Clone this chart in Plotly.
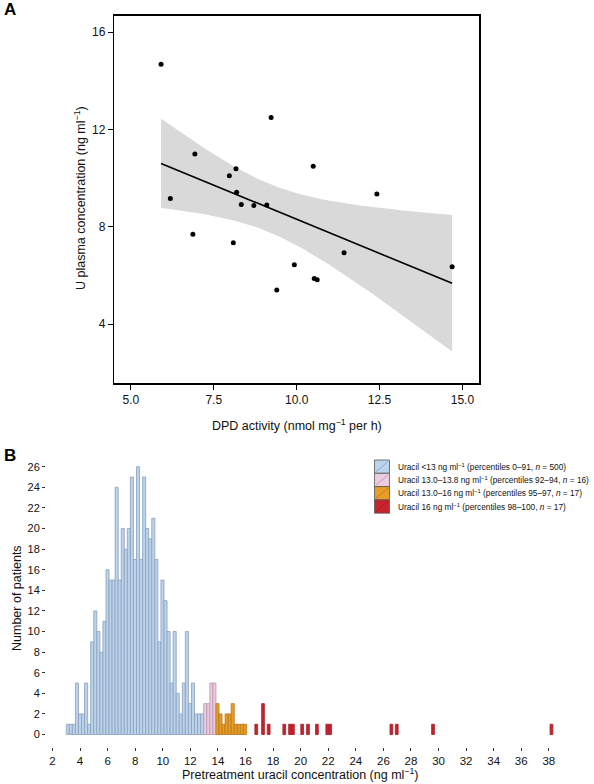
import numpy as np
import plotly.graph_objects as go

# ---------------- Panel A data ----------------
dpd_activity = [5.91, 9.23, 6.93, 8.17, 7.97, 10.50, 6.19, 8.19, 12.42, 8.33,
                8.71, 9.10, 6.87, 8.09, 11.43, 9.93, 10.53, 10.62, 9.40, 14.69]
u_plasma = [14.68, 12.49, 10.99, 10.39, 10.10, 10.49, 9.17, 9.42, 9.35, 8.92,
            8.88, 8.90, 7.70, 7.35, 6.93, 6.44, 5.88, 5.82, 5.40, 6.36]
t_crit = 2.101  # t(0.975, df=18)

# ---------------- Panel B data ----------------
hist_start = 3.0
hist_bin_width = 0.2215
blue_counts = [1, 1, 1, 5, 2, 2, 5, 1, 9, 12, 10, 8, 11, 16, 15, 15, 24, 15, 20, 18,
               20, 25, 17, 26, 17, 25, 20, 19, 21, 17, 9, 15, 13, 10, 5, 10, 4, 2, 5, 10,
               3, 5, 2, 2, 2]
pink_counts = [3, 3, 5, 5]
orange_counts = [3, 2, 1, 2, 2, 3, 1, 1, 1, 1]
red_values = [16.78, 17.27, 17.68, 18.81, 19.23, 19.44, 20.11, 20.53, 21.18,
              21.93, 22.14, 26.58, 26.97, 29.60, 38.19]
red_counts = [1, 3, 1, 1, 1, 1, 1, 1, 1, 1, 1, 1, 1, 1, 1]

legend_labels = [
    "Uracil &lt;13 ng ml<sup>−1</sup> (percentiles 0–91, <i>n</i> = 500)",
    "Uracil 13.0–13.8 ng ml<sup>−1</sup> (percentiles 92–94, <i>n</i> = 16)",
    "Uracil 13.0–16 ng ml<sup>−1</sup> (percentiles 95–97, <i>n</i> = 17)",
    "Uracil 16 ng ml<sup>−1</sup> (percentiles 98–100, <i>n</i> = 17)",
]

FONT = "Liberation Sans, Arial, Helvetica, sans-serif"
W, H = 594, 784

blue_fill, blue_line = "#bcd3ec", "#8a9fba"
pink_fill, pink_line = "#ecccdf", "#b994ad"
orange_fill, orange_line = "#e89d27", "#b8761a"
red_fill, red_line = "#c9232e", "#a81a24"

fig = go.Figure()

# ---- Panel A: regression and CI band ----
x = np.array(dpd_activity)
y = np.array(u_plasma)
n = len(x)
slope, intercept = np.polyfit(x, y, 1)
resid = y - (slope * x + intercept)
s = np.sqrt(np.sum(resid ** 2) / (n - 2))
sxx = np.sum((x - x.mean()) ** 2)
xg = np.linspace(x.min(), x.max(), 100)
yg = slope * xg + intercept
se = s * np.sqrt(1.0 / n + (xg - x.mean()) ** 2 / sxx)
upper = yg + t_crit * se
lower = yg - t_crit * se

fig.add_trace(go.Scatter(
    x=np.concatenate([xg, xg[::-1]]), y=np.concatenate([upper, lower[::-1]]),
    fill="toself", fillcolor="#d9d9d9", line=dict(width=0), mode="lines",
    hoverinfo="skip", showlegend=False, xaxis="x", yaxis="y"))
fig.add_trace(go.Scatter(
    x=xg, y=yg, mode="lines", line=dict(color="black", width=1.6),
    showlegend=False, xaxis="x", yaxis="y"))
fig.add_trace(go.Scatter(
    x=dpd_activity, y=u_plasma, mode="markers",
    marker=dict(color="black", size=5), showlegend=False, xaxis="x", yaxis="y"))

# ---- Panel B: histogram bars ----
def centers(offset, counts):
    return [hist_start + (offset + i + 0.5) * hist_bin_width for i in range(len(counts))]

nb, npk = len(blue_counts), len(pink_counts)
groups = [
    (centers(0, blue_counts), blue_counts, blue_fill, blue_line, hist_bin_width),
    (centers(nb, pink_counts), pink_counts, pink_fill, pink_line, hist_bin_width),
    (centers(nb + npk, orange_counts), orange_counts, orange_fill, orange_line, hist_bin_width),
    (red_values, red_counts, red_fill, red_line, 0.2),
]
for cx, cy, fc, lc, wd in groups:
    fig.add_trace(go.Bar(
        x=cx, y=cy, width=wd, marker=dict(color=fc, line=dict(color=lc, width=0.8)),
        showlegend=False, xaxis="x2", yaxis="y2"))

# ---- Layout ----
def px_x(p):
    return p / W

def px_y(p):
    return 1 - p / H

axis_font = dict(family=FONT, size=12, color="#111")
fig.update_layout(
    width=W, height=H, margin=dict(l=0, r=0, t=0, b=0, autoexpand=False),
    paper_bgcolor="white", plot_bgcolor="white",
    font=dict(family=FONT, color="#111"),
    bargap=0, barmode="overlay",
    xaxis=dict(domain=[px_x(114.3), px_x(479)], range=[4.5, 15.5], anchor="y",
               tickvals=[5, 7.5, 10, 12.5, 15], ticktext=["5.0", "7.5", "10.0", "12.5", "15.0"],
               showline=True, mirror=True, linecolor="black", linewidth=1.5,
               ticks="outside", ticklen=5, tickcolor="black", tickwidth=1,
               showgrid=False, zeroline=False, tickfont=axis_font, automargin=False),
    yaxis=dict(domain=[px_y(383), px_y(15.7)], range=[1.58, 16.68], anchor="x",
               tickvals=[4, 8, 12, 16],
               showline=True, mirror=True, linecolor="black", linewidth=1.5,
               ticks="outside", ticklen=5, tickcolor="black", tickwidth=1,
               showgrid=False, zeroline=False, tickfont=axis_font, automargin=False),
    xaxis2=dict(domain=[px_x(46), px_x(560)], range=[1.53, 38.81], anchor="y2",
                tick0=2, dtick=2, showline=False, ticks="outside", ticklen=3,
                tickcolor="#333", tickwidth=1, showgrid=False, zeroline=False,
                tickfont=dict(family=FONT, size=11.5, color="#111"), automargin=False),
    yaxis2=dict(domain=[px_y(747), px_y(462)], range=[-1.21, 26.46], anchor="x2",
                tick0=0, dtick=2, showline=False, ticks="outside", ticklen=3,
                tickcolor="#333", tickwidth=1, showgrid=False, zeroline=False,
                tickfont=dict(family=FONT, size=11, color="#111"), automargin=False),
)

ann = [
    dict(text="<b>A</b>", x=px_x(2), y=px_y(10), xanchor="left", yanchor="middle",
         font=dict(size=17, family=FONT, color="black")),
    dict(text="<b>B</b>", x=px_x(2), y=px_y(455), xanchor="left", yanchor="middle",
         font=dict(size=17, family=FONT, color="black")),
    dict(text="DPD activity (nmol mg<sup>−1</sup> per h)", x=px_x(296.5), y=px_y(425),
         xanchor="center", yanchor="middle", font=dict(size=12.5, family=FONT, color="#111")),
    dict(text="U plasma concentration (ng ml<sup>−1</sup>)", x=px_x(80), y=px_y(198),
         xanchor="center", yanchor="middle", textangle=-90,
         font=dict(size=12.5, family=FONT, color="#111")),
    dict(text="Pretreatment uracil concentration (ng ml<sup>−1</sup>)", x=px_x(300), y=px_y(774),
         xanchor="center", yanchor="middle", font=dict(size=12.5, family=FONT, color="#111")),
    dict(text="Number of patients", x=px_x(17), y=px_y(598), xanchor="center", yanchor="middle",
         textangle=-90, font=dict(size=12.5, family=FONT, color="#111")),
]

# ---- Manual legend ----
shapes = []
box_x0, box_x1 = 374.5, 389.5
row_top, row_h = 460, 13.3
leg_cols = [(blue_fill, blue_line), (pink_fill, pink_line),
            (orange_fill, orange_line), (red_fill, red_line)]
for i, (lab, (fc, lc)) in enumerate(zip(legend_labels, leg_cols)):
    y0 = row_top + i * row_h
    y1 = y0 + row_h
    shapes.append(dict(type="rect", xref="paper", yref="paper",
                       x0=px_x(box_x0), x1=px_x(box_x1), y0=px_y(y1), y1=px_y(y0),
                       fillcolor=fc, line=dict(color="#555", width=0.8)))
    shapes.append(dict(type="line", xref="paper", yref="paper",
                       x0=px_x(box_x0 + 1.5), x1=px_x(box_x1 - 1.5),
                       y0=px_y(y1 - 1.5), y1=px_y(y0 + 1.5),
                       line=dict(color=lc, width=0.8)))
    ann.append(dict(text=lab, x=px_x(396), y=px_y((y0 + y1) / 2), xanchor="left",
                    yanchor="middle", font=dict(size=8.3, family=FONT, color="#111")))

for a in ann:
    a.update(xref="paper", yref="paper", showarrow=False)
fig.update_layout(annotations=ann, shapes=shapes)

fig.write_html("out.html", config={"displayModeBar": False, "staticPlot": True},
               post_script="document.body.style.margin='0px';document.body.style.overflow='hidden';")
